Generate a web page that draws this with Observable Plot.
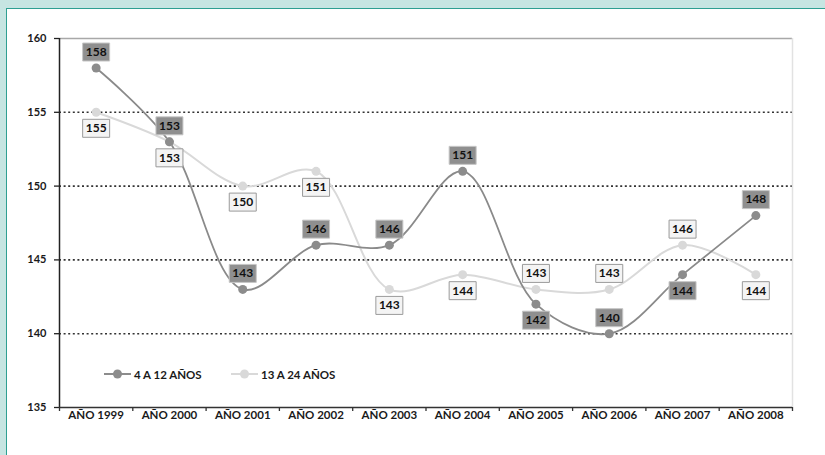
<!DOCTYPE html>
<html>
<head>
<meta charset="utf-8">
<script src="https://cdn.jsdelivr.net/npm/d3@7"></script>
<script src="https://cdn.jsdelivr.net/npm/@observablehq/plot@0.6"></script>
<style>
  html, body { margin: 0; padding: 0; background: #ffffff; }
  #wrap { position: relative; width: 825px; height: 455px; background: #c6e5e2; overflow: hidden; font-family: Lato, "Open Sans", sans-serif; }
  #panel { position: absolute; left: 6px; top: 8px; right: 0; bottom: 0; background: #ffffff; border-left: 1.5px solid #2e9f92; border-top: 1.5px solid #2e9f92; }
  #chart { position: absolute; left: 0; top: 0; }
  .legend { position: absolute; top: 366px; left: 0; height: 16px; }
  .legend .item { position: absolute; top: 0; display: flex; align-items: center; white-space: nowrap; font-weight: 700; font-size: 11.5px; color: #1a1a1a; }
  .legend svg { margin-right: 3px; }
</style>
</head>
<body>
<div id="wrap">
  <div id="panel"></div>
  <div id="chart"></div>
  <div class="legend" id="legend"></div>
</div>
<script>
// Categories and series
const years = ["AÑO 1999", "AÑO 2000", "AÑO 2001", "AÑO 2002", "AÑO 2003",
               "AÑO 2004", "AÑO 2005", "AÑO 2006", "AÑO 2007", "AÑO 2008"];
const kids  = [158, 153, 143, 146, 146, 151, 142, 140, 144, 148];   // 4 A 12 AÑOS
const youth = [155, 153, 150, 151, 143, 144, 143, 143, 146, 144];   // 13 A 24 AÑOS
// Which side of its point each value label sits on
const kidsLabelSide  = ["top", "top", "top", "top", "top", "top", "bottom", "top", "bottom", "top"];
const youthLabelSide = ["bottom", "bottom", "bottom", "bottom", "bottom", "bottom", "top", "top", "top", "bottom"];
const seriesNames = ["4 A 12 AÑOS", "13 A 24 AÑOS"];
const yTicks = [135, 140, 145, 150, 155, 160];
const gridValues = [140, 145, 150, 155];

const darkGray = "#8c8c8c";
const lightGray = "#d9d9d9";

const rows = (values, sides) => values.map((v, i) => ({i, year: years[i], value: v, side: sides[i]}));
const kidsRows = rows(kids, kidsLabelSide);
const youthRows = rows(youth, youthLabelSide);

// Fixed-size rectangle used as the background of each value label
const labelBox = { draw(ctx) { ctx.rect(-13.5, -9, 27, 18); } };
const xPos = d => d.i + 0.5;

function valueLabels(data, fill, stroke) {
  const marks = [];
  for (const [side, dy] of [["top", -16], ["bottom", 16]]) {
    const sub = data.filter(d => d.side === side);
    marks.push(Plot.dot(sub, {x: xPos, y: "value", symbol: labelBox, r: 5, fill, stroke, strokeWidth: 1, dy}));
    marks.push(Plot.text(sub, {x: xPos, y: "value", text: d => String(d.value), dy, fill: "#111", fontWeight: 700, fontSize: 12}));
  }
  return marks;
}

const chart = Plot.plot({
  width: 825,
  height: 455,
  marginLeft: 59,
  marginRight: 33,
  marginTop: 38,
  marginBottom: 48,
  style: { background: "transparent", fontFamily: "Lato, 'Open Sans', sans-serif", overflow: "visible" },
  x: { type: "linear", domain: [0, years.length] },
  y: { domain: [135, 160] },
  marks: [
    // dotted horizontal grid
    Plot.ruleY(gridValues, {stroke: "#333", strokeWidth: 1.6, strokeDasharray: "2,2.6"}),
    // plot frame: grey top and right, black axes
    Plot.ruleY([160], {stroke: "#a8a8a8", strokeWidth: 1.5}),
    Plot.ruleX([years.length], {stroke: "#e2e2e2", strokeWidth: 1.5}),
    Plot.ruleX([0], {stroke: "#222", strokeWidth: 1.5}),
    Plot.ruleY([135], {stroke: "#333", strokeWidth: 1.5}),
    Plot.axisY({ticks: yTicks, tickSize: 5, tickPadding: 8, label: null, fontWeight: 700, fontSize: 11, stroke: "#222", strokeWidth: 1.3, fill: "#1a1a1a"}),
    // tick marks between categories, labels centred on categories
    Plot.axisX({ticks: d3.range(0, years.length + 1), tickSize: 4, tickFormat: () => "", label: null, stroke: "#333", strokeWidth: 1.3}),
    Plot.axisX({ticks: years.map((_, i) => i + 0.5), tickSize: 0, tickPadding: 3, tickFormat: v => years[Math.floor(v)], label: null, fontWeight: 700, fontSize: 11.5, fill: "#1a1a1a"}),
    // series
    Plot.line(youthRows, {x: xPos, y: "value", stroke: lightGray, strokeWidth: 2, curve: "catmull-rom"}),
    Plot.line(kidsRows, {x: xPos, y: "value", stroke: "#8a8a8a", strokeWidth: 1.8, curve: "catmull-rom"}),
    Plot.dot(youthRows, {x: xPos, y: "value", r: 4.5, fill: lightGray}),
    Plot.dot(kidsRows, {x: xPos, y: "value", r: 4.5, fill: darkGray}),
    ...valueLabels(youthRows, "#f4f4f4", "#9a9a9a"),
    ...valueLabels(kidsRows, "#8f8f8f", "#c6c6c6")
  ]
});
document.getElementById("chart").appendChild(chart);

// Legend inside the plot area
const legend = document.getElementById("legend");
const legendItems = [
  {name: seriesNames[0], color: darkGray, left: 104},
  {name: seriesNames[1], color: lightGray, left: 231}
];
for (const it of legendItems) {
  const item = document.createElement("div");
  item.className = "item";
  item.style.left = it.left + "px";
  item.innerHTML =
    `<svg width="27" height="16"><line x1="0" x2="27" y1="8" y2="8" stroke="${it.color}" stroke-width="2"/>` +
    `<circle cx="13.5" cy="8" r="4.5" fill="${it.color}"/></svg><span>${it.name}</span>`;
  legend.appendChild(item);
}
</script>
</body>
</html>
